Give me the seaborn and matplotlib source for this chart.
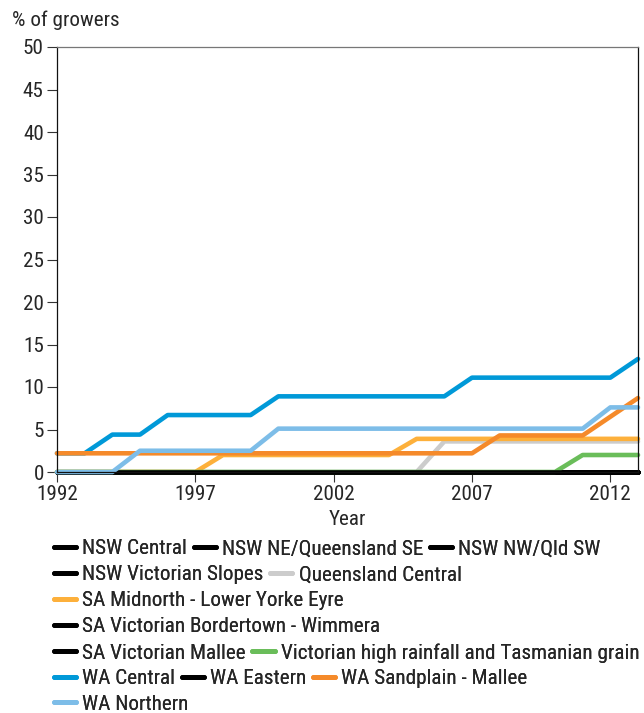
import matplotlib
matplotlib.use("Agg")
import matplotlib.pyplot as plt
import seaborn as sns
import pandas as pd
from matplotlib.lines import Line2D
from matplotlib import font_manager

years = list(range(1992, 2014))

regions = [
    "NSW Central", "NSW NE/Queensland SE", "NSW NW/Qld SW",
    "NSW Victorian Slopes", "Queensland Central",
    "SA Midnorth - Lower Yorke Eyre",
    "SA Victorian Bordertown - Wimmera",
    "SA Victorian Mallee", "Victorian high rainfall and Tasmanian grain",
    "WA Central", "WA Eastern", "WA Sandplain - Mallee",
    "WA Northern",
]

zeros = [0.0] * 22
nsw_central = zeros
nsw_ne_qld_se = zeros
nsw_nw_qld_sw = zeros
nsw_vic_slopes = zeros
qld_central = [0, 0, 0, 0, 0, 0, 0, 0, 0, 0, 0, 0, 0, 0, 3.6, 3.6, 3.6, 3.6, 3.6, 3.6, 3.6, 3.6]
sa_midnorth = [0, 0, 0, 0, 0, 0, 2.0, 2.0, 2.0, 2.0, 2.0, 2.0, 2.0, 3.9, 3.9, 3.9, 3.9, 3.9, 3.9, 3.9, 3.9, 3.9]
sa_vic_bordertown = zeros
sa_vic_mallee = zeros
vic_high_rainfall = [0, 0, 0, 0, 0, 0, 0, 0, 0, 0, 0, 0, 0, 0, 0, 0, 0, 0, 0, 2.0, 2.0, 2.0]
wa_central = [2.2, 2.2, 4.4, 4.4, 6.7, 6.7, 6.7, 6.7, 8.9, 8.9, 8.9, 8.9, 8.9, 8.9, 8.9, 11.1, 11.1, 11.1, 11.1, 11.1, 11.1, 13.3]
wa_eastern = zeros
wa_sandplain = [2.2, 2.2, 2.2, 2.2, 2.2, 2.2, 2.2, 2.2, 2.2, 2.2, 2.2, 2.2, 2.2, 2.2, 2.2, 2.2, 4.3, 4.3, 4.3, 4.3, 6.5, 8.7]
wa_northern = [0, 0, 0, 2.5, 2.5, 2.5, 2.5, 2.5, 5.1, 5.1, 5.1, 5.1, 5.1, 5.1, 5.1, 5.1, 5.1, 5.1, 5.1, 5.1, 7.6, 7.6]

series = [nsw_central, nsw_ne_qld_se, nsw_nw_qld_sw, nsw_vic_slopes, qld_central,
          sa_midnorth, sa_vic_bordertown, sa_vic_mallee, vic_high_rainfall,
          wa_central, wa_eastern, wa_sandplain, wa_northern]

colors = ["#000000", "#000000", "#000000", "#000000", "#cccccc",
          "#fdb03b", "#000000", "#000000", "#6abd5a",
          "#0099d8", "#000000", "#f58a2a", "#7dbde8"]

rows = []
for r, vals in zip(regions, series):
    for y, v in zip(years, vals):
        rows.append({"Year": y, "Value": v, "Region": r})
df = pd.DataFrame(rows)

sns.set_style("white")
available = {f.name for f in font_manager.fontManager.ttflist}
candidates = ["Roboto Condensed", "Archivo Narrow", "PT Sans Narrow", "Arimo",
              "Liberation Sans", "DejaVu Sans"]
chosen = [c for c in candidates if c in available]
plt.rcParams["font.family"] = chosen[:1] + ["DejaVu Sans"]

FS = 15.2
fig = plt.figure(figsize=(6.44, 7.13), dpi=100)
ax = fig.add_axes([57/644, 1 - 472/713, (638 - 57)/644, (472 - 47)/713])

sns.lineplot(data=df, x="Year", y="Value", hue="Region", hue_order=regions,
             palette=dict(zip(regions, colors)), linewidth=3.3, legend=False,
             ax=ax, solid_capstyle="round", clip_on=False)

ax.set_xlim(1992, 2013)
ax.set_ylim(0, 50)
ax.set_yticks(range(0, 51, 5))
ax.set_xticks([1992, 1997, 2002, 2007, 2012])
ax.tick_params(axis="both", direction="out", length=7, width=0.8, color="#333333",
               labelsize=FS, pad=2.5, left=True, bottom=True)
ax.set_xlabel("Year", fontsize=FS, labelpad=4)
ax.set_ylabel("")
for s in ["left", "right", "bottom"]:
    ax.spines[s].set_color("#111111")
    ax.spines[s].set_linewidth(0.9)
ax.spines["top"].set_color("#777777")
ax.spines["top"].set_linewidth(0.9)

fig.text(12/644, 1 - 20/713, "% of growers", fontsize=FS, va="center", ha="left")

legend_rows = [[0, 1, 2], [3, 4], [5], [6], [7, 8], [9, 10, 11], [12]]
row_y = [549, 575, 601, 627, 653, 679, 704]
for idxs, yy in zip(legend_rows, row_y):
    handles = [Line2D([0], [0], color=colors[i], lw=3.5, solid_capstyle="round") for i in idxs]
    labels = [regions[i] for i in idxs]
    leg = fig.legend(handles, labels, loc="center left",
                     bbox_to_anchor=(54/644, 1 - yy/713), ncol=len(idxs),
                     frameon=False, fontsize=FS, handlelength=1.05,
                     handletextpad=0.3, columnspacing=0.3, borderpad=0,
                     borderaxespad=0)
    fig.add_artist(leg)

fig.savefig("out.png", dpi=100)
